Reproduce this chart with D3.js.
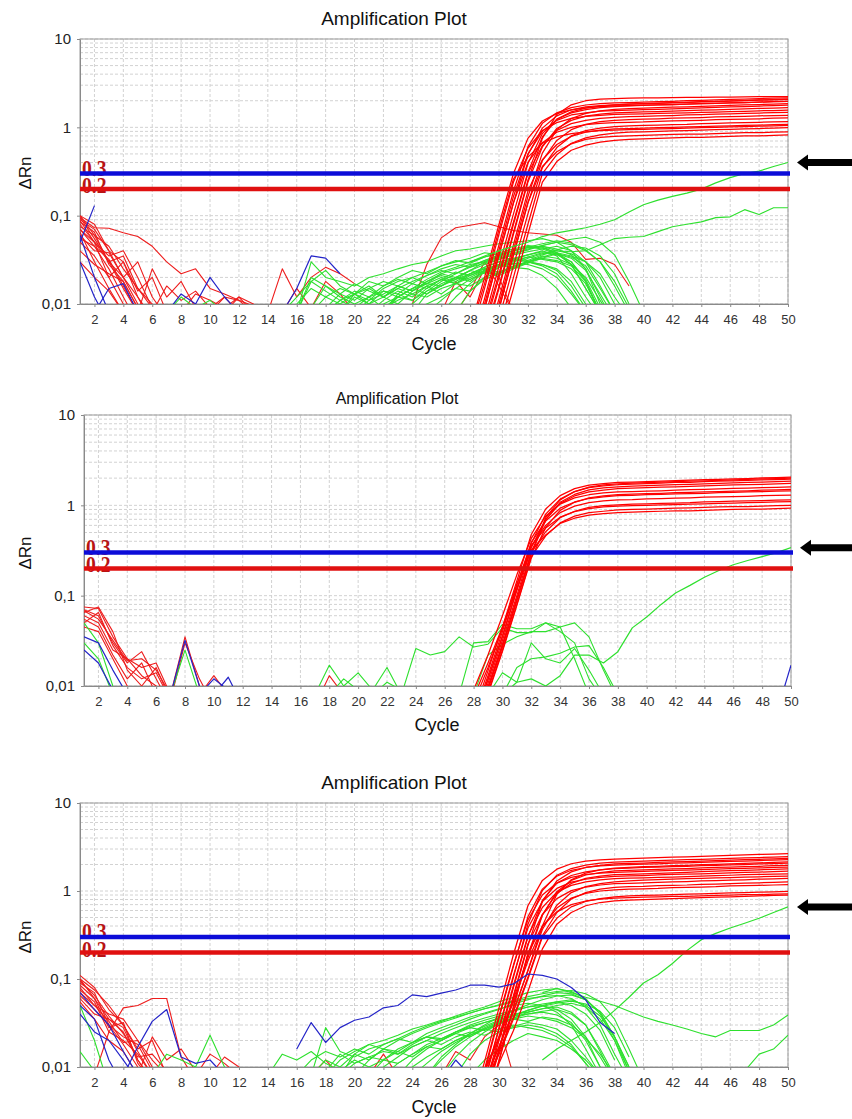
<!DOCTYPE html>
<html>
<head>
<meta charset="utf-8">
<script src="https://cdn.jsdelivr.net/npm/d3@7"></script>
<style>
  body { margin: 0; background: #fff; }
  svg { display: block; font-family: "Liberation Sans", Arial, sans-serif; }
</style>
</head>
<body>
<div id="chart"></div>
<script>
// each series: [first cycle, dRn at that cycle, dRn at next cycle, ...]
const xTicks = d3.range(2, 51, 2);
const yTicks = [0.01, 0.1, 1, 10];
const yTickLabels = ["0,01", "0,1", "1", "10"];
const thresholds = [{ v: 0.3, label: "0.3" }, { v: 0.2, label: "0.2" }];
const title = "Amplification Plot";

// ---- plot 1 ----
const p1RedAmp = [
  [28, .0053, .02, .08, .3, .75, 1.18, 1.44, 1.58, 1.66, 1.72, 1.75, 1.76, 1.78, 1.8, 1.81, 1.83, 1.85, 1.87, 1.89, 1.91, 1.93, 1.95, 1.97],
  [28, .004, .015, .062, .24, .58, .92, 1.13, 1.26, 1.33, 1.37, 1.4, 1.41, 1.42, 1.44, 1.45, 1.46, 1.48, 1.49, 1.51, 1.52, 1.54, 1.55, 1.57],
  [28, .003, .0115, .047, .19, .6, 1.11, 1.46, 1.67, 1.79, 1.85, 1.89, 1.91, 1.93, 1.95, 1.97, 2.0, 2.02, 2.05, 2.07, 2.09, 2.12, 2.14, 2.16],
  [28, .0025, .01, .041, .165, .5, .9, 1.2, 1.38, 1.46, 1.53, 1.55, 1.57, 1.59, 1.6, 1.62, 1.64, 1.66, 1.68, 1.7, 1.72, 1.74, 1.76, 1.78],
  [28, .002, .0088, .036, .14, .4, .67, .88, 1.0, 1.07, 1.11, 1.13, 1.14, 1.15, 1.17, 1.18, 1.19, 1.2, 1.22, 1.23, 1.24, 1.25, 1.27, 1.28],
  [28, .0015, .0068, .027, .105, .39, .85, 1.24, 1.46, 1.59, 1.67, 1.72, 1.75, 1.77, 1.79, 1.81, 1.83, 1.85, 1.87, 1.89, 1.91, 1.93, 1.95, 1.97],
  [29, .0053, .02, .08, .3, .62, .92, 1.1, 1.2, 1.26, 1.3, 1.32, 1.33, 1.35, 1.36, 1.38, 1.39, 1.41, 1.42, 1.44, 1.45, 1.47, 1.48],
  [29, .004, .015, .062, .24, .6, .97, 1.2, 1.34, 1.41, 1.46, 1.48, 1.5, 1.51, 1.53, 1.55, 1.57, 1.58, 1.6, 1.62, 1.64, 1.65, 1.67],
  [29, .003, .0115, .047, .19, .43, .64, .79, .88, .93, .96, .97, .98, .99, 1.0, 1.01, 1.02, 1.03, 1.04, 1.05, 1.06, 1.07, 1.08],
  [29, .0025, .01, .041, .165, .51, .94, 1.26, 1.44, 1.54, 1.6, 1.63, 1.65, 1.67, 1.69, 1.71, 1.73, 1.75, 1.77, 1.79, 1.81, 1.83, 1.85],
  [29, .002, .0088, .036, .14, .42, .71, .94, 1.08, 1.16, 1.2, 1.22, 1.24, 1.25, 1.27, 1.28, 1.29, 1.31, 1.32, 1.33, 1.35, 1.36, 1.37],
  [29, .0015, .0068, .027, .105, .35, .59, .8, .92, .98, 1.02, 1.04, 1.05, 1.06, 1.07, 1.08, 1.1, 1.11, 1.12, 1.13, 1.14, 1.15, 1.16],
  [30, .0053, .02, .08, .3, .49, .66, .76, .82, .86, .88, .89, .9, .91, .92, .93, .94, .95, .96, .97, .98, .99],
  [30, .004, .015, .062, .24, .41, .55, .63, .68, .71, .73, .74, .75, .76, .77, .77, .78, .79, .8, .8, .81, .82],
  [28, .005, .017, .07, .26, .46, .66, .78, .85, .89, .92, .93, .94, .95, .96, .97, .98, .99, 1.0, 1.01, 1.02, 1.03, 1.04, 1.05],
  [29, .006, .022, .085, .31, .78, 1.23, 1.5, 1.65, 1.74, 1.8, 1.83, 1.85, 1.87, 1.89, 1.92, 1.94, 1.96, 1.98, 2.0, 2.03, 2.05, 2.07],
  [29, .002, .0088, .036, .14, .36, .53, .65, .73, .77, .79, .8, .81, .82, .83, .84, .84, .85, .86, .87, .87, .88, .89],
  [28, .002, .0088, .036, .14, .49, .98, 1.35, 1.58, 1.7, 1.76, 1.8, 1.83, 1.86, 1.88, 1.9, 1.92, 1.95, 1.97, 1.99, 2.01, 2.04, 2.06, 2.08],
  [29, .0045, .016, .065, .25, .75, 1.4, 1.8, 2.0, 2.08, 2.12, 2.14, 2.15, 2.16, 2.17, 2.18, 2.19, 2.2, 2.2, 2.21, 2.22, 2.22, 2.23]
];
const p1RedNoise = [
  [1, .1, .06, .03, .015, .008], [1, .09, .07, .04, .02, .012, .006], [1, .08, .05, .035, .04, .02, .009],
  [1, .07, .045, .025, .012, .006], [1, .095, .055, .03, .02, .03, .012, .007], [1, .06, .04, .038, .02, .01, .006],
  [1, .085, .065, .028, .018, .009], [1, .05, .035, .02, .03, .014, .02, .008], [1, .075, .06, .045, .025, .015, .009],
  [1, .065, .03, .015, .008], [1, .1, .08, .04, .03, .012, .007], [1, .055, .045, .032, .016, .008],
  [1, .04, .028, .022, .018, .009], [1, .03, .02, .014, .008], [1, .088, .05, .02, .01, .006],
  [1, .07, .05, .03, .035, .015, .01, .006],
  [1, .095, .073, .072, .064, .058, .045, .03, .022, .025, .015, .013, .011, .0095, .008],
  [5, .008, .025, .012, .018, .009], [6, .008, .016, .011, .014, .009, .012, .008], [8, .008, .013, .011, .009, .012, .01, .008],
  [10, .008, .012, .011, .008], [11, .008, .012, .008],
  [14, .008, .025, .012, .02, .026, .022, .017], [15, .008, .015, .009, .018, .013, .008],
  [26, .008, .018, .012, .025, .02, .008], [27, .008, .014, .03, .016, .008],
  [23, .008, .01, .028, .056, .073, .078, .083, .075, .068, .064, .062, .06, .05, .032, .033, .028, .016]
];
const p1Green = [
  [16, .008, .03, .02, .018, .016, .02, .022, .025, .028, .03, .035, .04, .042, .045, .048, .05, .052, .055, .05, .04, .025, .01, .006],
  [17, .008, .012, .015, .013, .018, .016, .02, .024, .022, .027, .03, .033, .038, .036, .04, .045, .043, .038, .03, .018, .008],
  [16, .01, .015, .012, .01, .013, .011, .015, .018, .02, .017, .022, .025, .028, .03, .034, .032, .036, .04, .035, .022, .012, .007],
  [18, .008, .011, .014, .012, .016, .019, .017, .021, .025, .028, .026, .031, .035, .04, .044, .042, .037, .028, .015, .008],
  [19, .008, .012, .01, .014, .013, .017, .015, .019, .023, .021, .025, .028, .026, .03, .027, .022, .014, .008],
  [20, .008, .011, .013, .016, .014, .018, .022, .02, .024, .03, .034, .038, .042, .046, .05, .047, .04, .03, .018, .009],
  [22, .008, .012, .015, .019, .023, .026, .03, .034, .037, .04, .043, .045, .042, .036, .025, .012, .006],
  [24, .008, .013, .017, .02, .018, .024, .028, .032, .03, .035, .033, .028, .02, .011, .006],
  [21, .008, .01, .012, .011, .014, .016, .02, .019, .023, .027, .031, .034, .038, .036, .03, .019, .009],
  [25, .008, .011, .015, .014, .019, .022, .026, .03, .033, .031, .027, .018, .008],
  [16, .008, .02, .016, .012, .01, .012, .009, .011, .013, .012, .015, .017, .016, .02, .023, .026, .025, .021, .015, .009],
  [23, .008, .01, .014, .018, .022, .027, .031, .036, .04, .044, .048, .052, .049, .041, .03, .016, .008],
  [26, .008, .012, .017, .023, .028, .033, .036, .039, .037, .033, .024, .013, .007],
  [18, .009, .013, .011, .015, .012, .01, .014, .017, .016, .02, .024, .022, .026, .029, .028, .025, .02, .013, .008],
  [27, .008, .014, .02, .026, .03, .034, .032, .03, .025, .017, .008],
  [20, .008, .01, .009, .012, .015, .013, .016, .019, .022, .025, .023, .027, .03, .028, .024, .016, .009],
  [15, .008, .012, .018, .014, .011, .013, .01, .012, .015, .013, .016, .019, .017, .021, .024, .022, .027, .03, .028, .025, .018, .01, .006],
  [17, .009, .016, .013, .017, .014, .012, .016, .014, .018, .021, .019, .024, .028, .032, .036, .039, .042, .045, .04, .03, .016, .008],
  [19, .008, .013, .016, .012, .015, .018, .021, .024, .022, .026, .029, .033, .037, .041, .046, .05, .054, .057, .05, .036, .018, .008],
  [21, .008, .011, .014, .012, .016, .013, .017, .02, .024, .028, .025, .03, .034, .038, .035, .03, .022, .012, .007],
  [16, .008, .018, .024, .016, .013, .015, .018, .016, .02, .023, .027, .031, .029, .034, .038, .042, .046, .044, .038, .028, .015, .008],
  [22, .008, .013, .011, .015, .019, .017, .022, .026, .03, .028, .033, .037, .041, .045, .043, .035, .022, .01],
  [24, .008, .01, .012, .015, .019, .023, .021, .025, .029, .033, .037, .034, .027, .015, .008],
  [18, .008, .011, .009, .012, .014, .012, .015, .017, .02, .018, .022, .026, .03, .033, .031, .036, .04, .037, .03, .02, .01],
  [7, .008, .012, .009, .011, .008],
  [33, .045, .04, .039, .04, .047, .055, .057, .058, .066, .075, .08, .085, .095, .097, .117, .103, .123, .123]
];
const p1GreenRise = [
  [28, .03, .035, .04, .045, .05, .058, .064, .068, .073, .08, .09, .11, .133, .15, .165, .18, .2, .235, .27, .3, .32, .36, .4]
];
const p1Blue = [
  [1, .05, .13], [1, .06, .02, .008], [1, .03, .012, .006], [2, .008, .015, .017, .008],
  [7, .008, .013, .01, .02, .012, .008], [15, .008, .015, .035, .033, .022]
];

// ---- plot 2 ----
const p2RedAmp = [
  [28, .005, .0147, .045, .146, .475, .91, 1.28, 1.53, 1.67, 1.74, 1.79, 1.81, 1.83, 1.85, 1.88, 1.9, 1.92, 1.94, 1.96, 1.98, 2.01, 2.03, 2.05],
  [28, .009, .022, .06, .17, .43, .76, 1.03, 1.21, 1.31, 1.37, 1.41, 1.42, 1.44, 1.45, 1.47, 1.49, 1.5, 1.52, 1.54, 1.55, 1.57, 1.58, 1.6],
  [28, .004, .0117, .035, .114, .38, .8, 1.17, 1.42, 1.57, 1.64, 1.69, 1.72, 1.74, 1.76, 1.79, 1.8, 1.83, 1.85, 1.87, 1.89, 1.91, 1.93, 1.95],
  [28, .0042, .012, .036, .118, .35, .6, .83, .98, 1.07, 1.12, 1.15, 1.16, 1.18, 1.19, 1.2, 1.21, 1.23, 1.24, 1.25, 1.26, 1.28, 1.29, 1.3],
  [28, .0037, .0107, .032, .1, .34, .7, 1.05, 1.27, 1.41, 1.47, 1.53, 1.55, 1.57, 1.59, 1.6, 1.62, 1.64, 1.66, 1.68, 1.7, 1.71, 1.73, 1.75],
  [28, .003, .0095, .028, .09, .3, .51, .73, .86, .95, .99, 1.01, 1.03, 1.04, 1.05, 1.06, 1.07, 1.09, 1.1, 1.11, 1.12, 1.13, 1.14, 1.15],
  [28, .0033, .0098, .029, .092, .3, .73, 1.15, 1.42, 1.59, 1.68, 1.73, 1.76, 1.78, 1.81, 1.83, 1.85, 1.87, 1.89, 1.91, 1.94, 1.96, 1.98, 2.0],
  [28, .0028, .0085, .025, .08, .27, .46, .64, .76, .83, .86, .89, .9, .91, .92, .93, .94, .95, .96, .97, .97, .98, .99, 1.0],
  [28, .0045, .013, .04, .13, .39, .67, .93, 1.09, 1.19, 1.24, 1.28, 1.29, 1.31, 1.32, 1.34, 1.35, 1.36, 1.38, 1.39, 1.41, 1.42, 1.44, 1.45],
  [28, .0075, .018, .045, .12, .32, .47, .63, .72, .78, .81, .83, .84, .85, .86, .87, .87, .88, .89, .9, .91, .91, .92, .93],
  [28, .0031, .0092, .027, .088, .29, .69, 1.08, 1.32, 1.48, 1.56, 1.6, 1.63, 1.65, 1.67, 1.69, 1.71, 1.73, 1.75, 1.77, 1.79, 1.81, 1.83, 1.85],
  [28, .0065, .016, .043, .135, .36, .56, .74, .85, .92, .96, .98, .99, 1.0, 1.01, 1.02, 1.03, 1.04, 1.05, 1.06, 1.07, 1.08, 1.09, 1.1],
  [28, .0027, .0082, .024, .078, .26, .57, .88, 1.08, 1.21, 1.27, 1.31, 1.33, 1.35, 1.36, 1.38, 1.39, 1.41, 1.42, 1.44, 1.45, 1.47, 1.48, 1.5]
];
const p2RedNoise = [
  [1, .075, .072, .035, .02, .016, .018, .008], [1, .07, .06, .03, .018, .024, .012, .006],
  [1, .065, .075, .04, .015, .01, .016, .007], [1, .06, .05, .025, .02, .013, .01, .006],
  [1, .055, .045, .022, .012, .018, .008], [1, .05, .065, .028, .016, .012, .014, .007],
  [1, .045, .04, .02, .01, .006], [1, .068, .055, .032, .019, .02, .015, .008],
  [7, .008, .035, .01, .006], [7, .007, .03, .012, .006], [9, .008, .013, .008], [17, .006, .013, .008]
];
const p2Green = [
  [17, .008, .017, .01, .014, .009, .016, .008, .026, .022, .024, .035, .027, .029, .044, .039, .039, .05, .04, .03, .012, .007],
  [27, .008, .03, .031, .048, .043, .043, .05, .045, .02, .008],
  [28, .008, .022, .029, .035, .04, .04, .045, .05, .035, .015, .007],
  [29, .008, .014, .011, .03, .02, .018, .026, .015, .008],
  [30, .008, .016, .02, .021, .023, .027, .028, .016, .008],
  [18, .008, .012, .009, .008, .011, .009, .008],
  [1, .05, .03, .01, .006], [1, .03, .02, .008], [7, .008, .025, .008]
];
const p2GreenRise = [
  [30, .008, .011, .012, .01, .013, .022, .022, .018, .024, .044, .058, .08, .107, .13, .16, .19, .22, .245, .27, .3, .34]
];
const p2Blue = [
  [1, .025, .018, .009], [1, .035, .03, .015, .008], [7, .008, .032, .01], [9, .008, .012, .009],
  [10, .008, .0125, .006], [49, .005, .017]
];

// ---- plot 3 ----
const p3RedAmp = [
  [28, .003, .0115, .047, .19, .68, 1.32, 1.77, 2.04, 2.18, 2.26, 2.3, 2.33, 2.36, 2.39, 2.42, 2.45, 2.48, 2.51, 2.54, 2.57, 2.6, 2.63, 2.66],
  [28, .002, .0088, .036, .14, .51, 1.05, 1.47, 1.72, 1.85, 1.93, 1.97, 1.99, 2.02, 2.04, 2.07, 2.09, 2.12, 2.14, 2.17, 2.19, 2.22, 2.24, 2.27],
  [28, .0015, .0068, .027, .105, .42, 1.01, 1.51, 1.8, 1.97, 2.07, 2.13, 2.16, 2.18, 2.21, 2.24, 2.27, 2.29, 2.32, 2.35, 2.38, 2.4, 2.43, 2.46],
  [28, .0022, .0095, .038, .145, .47, .9, 1.23, 1.43, 1.54, 1.6, 1.63, 1.65, 1.67, 1.69, 1.71, 1.73, 1.75, 1.77, 1.79, 1.81, 1.83, 1.85, 1.87],
  [29, .0053, .02, .08, .3, .78, 1.23, 1.5, 1.65, 1.74, 1.8, 1.82, 1.85, 1.87, 1.89, 1.91, 1.94, 1.96, 1.98, 2.0, 2.03, 2.05, 2.07],
  [29, .0058, .022, .085, .31, .65, .97, 1.16, 1.27, 1.34, 1.38, 1.4, 1.41, 1.43, 1.44, 1.46, 1.48, 1.5, 1.51, 1.53, 1.54, 1.56, 1.57],
  [29, .004, .015, .062, .24, .76, 1.3, 1.65, 1.85, 1.96, 2.03, 2.06, 2.08, 2.11, 2.14, 2.16, 2.19, 2.21, 2.24, 2.27, 2.29, 2.32, 2.35],
  [29, .0042, .016, .065, .25, .54, .82, 1.01, 1.11, 1.17, 1.21, 1.22, 1.24, 1.25, 1.27, 1.28, 1.3, 1.31, 1.33, 1.34, 1.36, 1.37, 1.39],
  [29, .003, .0115, .047, .19, .54, .94, 1.22, 1.39, 1.48, 1.53, 1.55, 1.57, 1.59, 1.61, 1.63, 1.66, 1.68, 1.7, 1.72, 1.74, 1.76, 1.78],
  [28, .004, .0093, .022, .059, .174, .53, .98, 1.32, 1.52, 1.62, 1.69, 1.72, 1.74, 1.76, 1.78, 1.8, 1.83, 1.85, 1.87, 1.89, 1.91, 1.94, 1.96],
  [28, .0037, .0088, .021, .055, .16, .39, .64, .83, .94, 1.0, 1.03, 1.05, 1.06, 1.07, 1.09, 1.1, 1.11, 1.12, 1.14, 1.15, 1.16, 1.17, 1.18],
  [28, .003, .0068, .017, .043, .125, .365, .69, .96, 1.12, 1.21, 1.27, 1.3, 1.33, 1.35, 1.36, 1.38, 1.39, 1.41, 1.42, 1.44, 1.45, 1.47, 1.48],
  [29, .006, .014, .035, .1, .3, .49, .66, .76, .82, .86, .88, .89, .9, .91, .92, .93, .94, .95, .96, .97, .98, .99],
  [29, .0047, .011, .026, .072, .22, .42, .57, .68, .74, .77, .79, .8, .81, .82, .83, .84, .85, .86, .87, .88, .89, .9],
  [29, .0068, .017, .043, .125, .4, .92, 1.34, 1.6, 1.74, 1.82, 1.86, 1.89, 1.91, 1.94, 1.96, 1.99, 2.01, 2.04, 2.06, 2.09, 2.11, 2.14],
  [28, .0016, .007, .028, .11, .38, .76, 1.07, 1.26, 1.36, 1.43, 1.47, 1.49, 1.5, 1.52, 1.54, 1.56, 1.57, 1.59, 1.61, 1.63, 1.64, 1.66, 1.68],
  [29, .0062, .015, .037, .105, .31, .57, .81, .96, 1.05, 1.1, 1.12, 1.13, 1.15, 1.16, 1.17, 1.19, 1.2, 1.21, 1.23, 1.24, 1.25, 1.27],
  [29, .0032, .012, .049, .195, .4, .58, .7, .77, .81, .83, .84, .85, .86, .87, .87, .88, .89, .9, .91, .91, .92, .93]
];
const p3RedNoise = [
  [1, .11, .08, .045, .03, .015, .008], [1, .1, .06, .035, .025, .012, .007], [1, .09, .07, .03, .022, .018, .009],
  [1, .08, .05, .04, .035, .02, .01, .006], [1, .075, .055, .025, .02, .014, .008], [1, .065, .045, .03, .018, .01, .006],
  [1, .1, .075, .05, .03, .016, .02, .008], [1, .06, .04, .035, .028, .012, .007], [1, .095, .065, .038, .024, .013, .014, .009, .006],
  [1, .055, .035, .02, .015, .008], [1, .085, .06, .028, .032, .011, .007], [1, .07, .05, .033, .019, .02, .012, .008],
  [2, .008, .025, .047, .05, .06, .06, .013, .007], [5, .008, .022, .012, .016, .009], [9, .008, .014, .011, .008],
  [10, .008, .013, .01, .008], [17, .008, .012, .008], [21, .008, .014, .008], [26, .008, .015, .012, .022, .03, .008]
];
const p3Green = [
  [17, .008, .028, .015, .013, .016, .018, .021, .025, .029, .033, .038, .043, .048, .055, .062, .07, .075, .078, .072, .06, .04, .02, .008],
  [18, .008, .012, .015, .018, .02, .023, .027, .03, .034, .037, .041, .046, .05, .055, .06, .063, .065, .06, .048, .03, .014, .007],
  [19, .008, .011, .013, .012, .016, .019, .022, .02, .025, .029, .032, .036, .04, .042, .046, .05, .053, .048, .035, .02, .009],
  [20, .008, .012, .016, .014, .018, .022, .026, .03, .035, .04, .045, .052, .058, .064, .07, .068, .058, .042, .022, .01],
  [21, .008, .01, .013, .017, .02, .024, .028, .032, .036, .04, .044, .048, .05, .045, .035, .022, .01],
  [17, .008, .012, .01, .014, .012, .016, .015, .019, .022, .021, .025, .028, .032, .035, .038, .04, .042, .039, .032, .02, .01],
  [22, .008, .011, .014, .018, .021, .025, .03, .034, .038, .043, .048, .052, .055, .05, .04, .026, .012],
  [23, .008, .012, .016, .02, .024, .028, .026, .031, .035, .033, .037, .035, .03, .022, .013, .007],
  [24, .008, .011, .015, .019, .023, .028, .033, .038, .044, .05, .055, .058, .05, .038, .022, .01],
  [18, .009, .014, .011, .013, .015, .014, .017, .02, .018, .022, .025, .023, .027, .03, .028, .026, .022, .017, .011, .007],
  [25, .008, .012, .017, .022, .027, .032, .036, .04, .043, .045, .04, .03, .016, .008],
  [26, .008, .013, .019, .025, .031, .036, .042, .046, .048, .042, .03, .015, .007],
  [20, .008, .01, .012, .011, .014, .017, .016, .02, .023, .027, .025, .029, .032, .03, .027, .02, .013, .008],
  [27, .008, .014, .02, .025, .028, .03, .028, .024, .018, .011, .007],
  [14, .008, .014, .012, .015, .011, .009, .012, .01, .008],
  [28, .008, .012, .016, .02, .024, .022, .02, .016, .012, .008],
  [21, .008, .012, .015, .013, .017, .02, .024, .022, .027, .031, .035, .038, .036, .033, .028, .021, .014, .008],
  [19, .008, .014, .018, .016, .02, .024, .028, .032, .036, .041, .046, .051, .057, .063, .068, .072, .074, .068, .055, .035, .016, .007],
  [23, .008, .01, .013, .016, .02, .024, .029, .034, .039, .044, .049, .053, .056, .052, .043, .028, .013],
  [16, .008, .012, .015, .013, .016, .014, .018, .021, .019, .024, .028, .032, .037, .041, .046, .05, .053, .05, .042, .03, .016, .008],
  [25, .008, .013, .018, .024, .03, .037, .044, .051, .058, .064, .066, .058, .042, .022, .009],
  [33, .07, .078, .07, .062, .056, .05, .043, .037, .033, .03, .027, .024, .022, .026, .026, .026, .03, .039],
  [47, .009, .014, .016, .023],
  [1, .05, .02, .006], [1, .015, .009], [6, .008, .014, .012, .01, .023, .01, .006]
];
const p3GreenRise = [
  [33, .012, .016, .02, .025, .032, .044, .062, .09, .112, .15, .21, .28, .33, .38, .43, .49, .57, .66]
];
const p3Blue = [
  [1, .07, .045, .03, .015, .008], [1, .05, .035, .012, .006], [1, .04, .025, .02, .012, .007],
  [4, .008, .017, .033, .045, .013, .011, .012, .008], [26, .007, .012, .008],
  [16, .016, .032, .019, .028, .034, .037, .047, .05, .066, .063, .069, .075, .085, .085, .081, .088, .114, .11, .1, .08, .058, .032, .024]
];

const panelData = [
  { redAmp: p1RedAmp, redNoise: p1RedNoise, green: p1Green, rise: p1GreenRise, blue: p1Blue },
  { redAmp: p2RedAmp, redNoise: p2RedNoise, green: p2Green, rise: p2GreenRise, blue: p2Blue },
  { redAmp: p3RedAmp, redNoise: p3RedNoise, green: p3Green, rise: p3GreenRise, blue: p3Blue }
];

// layout of the three stacked plots
const layout = [
  { x0: 80, x1: 788, yt: 39, yb: 304, tx: 394, ty: 25, ts: 19, cx: 434, cy: 350, ly: 173 },
  { x0: 84, x1: 791, yt: 415, yb: 686, tx: 397, ty: 404, ts: 16, cx: 437, cy: 731, ly: 553 },
  { x0: 80, x1: 788, yt: 803, yb: 1067, tx: 394, ty: 789, ts: 19, cx: 434, cy: 1113, ly: 937 }
];

const W = 852, H = 1119;
const svg = d3.select("#chart").append("svg").attr("width", W).attr("height", H);

const toPoints = s => s.slice(1).map((v, i) => [s[0] + i, v]);

function drawPanel(L, D, idx) {
  const x = d3.scaleLinear().domain([1, 50]).range([L.x0, L.x1]);
  const y = d3.scaleLog().domain([0.01, 10]).range([L.yb, L.yt]);
  const g = svg.append("g");

  const clipId = "clip" + idx;
  svg.append("clipPath").attr("id", clipId).append("rect")
    .attr("x", L.x0).attr("y", L.yt)
    .attr("width", L.x1 - L.x0).attr("height", L.yb - L.yt);

  // grid
  const minor = [];
  [0.01, 0.1, 1].forEach(b => d3.range(2, 10).forEach(k => minor.push(b * k)));
  g.append("g").selectAll("line").data(minor.concat(yTicks)).join("line")
    .attr("x1", L.x0).attr("x2", L.x1)
    .attr("y1", d => y(d)).attr("y2", d => y(d))
    .attr("stroke", "#d2d2d2").attr("stroke-dasharray", "3,2");
  g.append("g").selectAll("line").data(xTicks).join("line")
    .attr("x1", d => x(d)).attr("x2", d => x(d))
    .attr("y1", L.yt).attr("y2", L.yb)
    .attr("stroke", "#d2d2d2").attr("stroke-dasharray", "3,2");

  // frame
  g.append("rect").attr("x", L.x0).attr("y", L.yt)
    .attr("width", L.x1 - L.x0).attr("height", L.yb - L.yt)
    .attr("fill", "none").attr("stroke", "#9a9a9a");

  // axes
  const ax = g.append("g").attr("transform", `translate(0,${L.yb})`)
    .call(d3.axisBottom(x).tickValues(xTicks).tickSize(3).tickPadding(8).tickSizeOuter(0));
  ax.selectAll("text").attr("font-size", 13).attr("fill", "#333");
  const ay = g.append("g").attr("transform", `translate(${L.x0},0)`)
    .call(d3.axisLeft(y).tickValues(yTicks).tickFormat((d, i) => yTickLabels[i])
      .tickSize(3).tickPadding(6).tickSizeOuter(0));
  ay.selectAll("text").attr("font-size", 15).attr("fill", "#222");
  [ax, ay].forEach(a => {
    a.select(".domain").attr("stroke", "#8a8a8a");
    a.selectAll(".tick line").attr("stroke", "#8a8a8a");
    a.attr("font-family", null);
  });

  // labels
  g.append("text").attr("x", L.tx).attr("y", L.ty).attr("text-anchor", "middle")
    .attr("font-size", L.ts).attr("fill", "#111").text(title);
  g.append("text").attr("x", L.cx).attr("y", L.cy).attr("text-anchor", "middle")
    .attr("font-size", 18).attr("fill", "#111").text("Cycle");
  g.append("text").attr("transform", `translate(31,${L.ly}) rotate(-90)`)
    .attr("text-anchor", "middle").attr("font-size", 17).attr("fill", "#111").text("\u0394Rn");

  // curves
  const line = d3.line().x(p => x(p[0])).y(p => y(Math.max(p[1], 0.001)));
  const curves = g.append("g").attr("clip-path", `url(#${clipId})`)
    .attr("fill", "none").attr("stroke-linejoin", "round");
  const layer = (arr, color, w) => curves.append("g").selectAll("path").data(arr).join("path")
    .attr("d", s => line(toPoints(s))).attr("stroke", color).attr("stroke-width", w);
  layer(D.redNoise, "#ee1c1c", 1.1);
  layer(D.green, "#2ee02e", 1.1);
  layer(D.redAmp, "#ff0000", 1.25);
  layer(D.rise, "#2ee02e", 1.2);
  layer(D.blue, "#2424c8", 1.2);

  // threshold labels (condensed bold serif, partly under the lines) and lines
  const tLabel = (t, dy) => g.append("text")
    .attr("transform", `translate(${L.x0 + 2},${y(t.v) + dy}) scale(0.82,1)`)
    .attr("font-family", "Liberation Serif, serif").attr("font-weight", "bold")
    .attr("font-size", 24).attr("fill", "#b81414").text(t.label);
  tLabel(thresholds[0], 2);
  tLabel(thresholds[1], 4);
  thresholds.forEach((t, i) => g.append("line").attr("x1", L.x0).attr("x2", L.x1 + 2)
    .attr("y1", y(t.v)).attr("y2", y(t.v))
    .attr("stroke", i === 0 ? "#0c0cd8" : "#e01010").attr("stroke-width", 4.5));

  // arrow pointing at the end of the late rising green curve
  const target = D.rise[0][D.rise[0].length - 1];
  const ty = y(target), tip = L.x1 + 9;
  g.append("path")
    .attr("d", `M${tip},${ty} L${tip + 11},${ty - 8} L${tip + 11},${ty - 3.5} L${W},${ty - 3.5} L${W},${ty + 3.5} L${tip + 11},${ty + 3.5} L${tip + 11},${ty + 8} Z`)
    .attr("fill", "#000");
}

layout.forEach((L, i) => drawPanel(L, panelData[i], i));
</script>
</body>
</html>
